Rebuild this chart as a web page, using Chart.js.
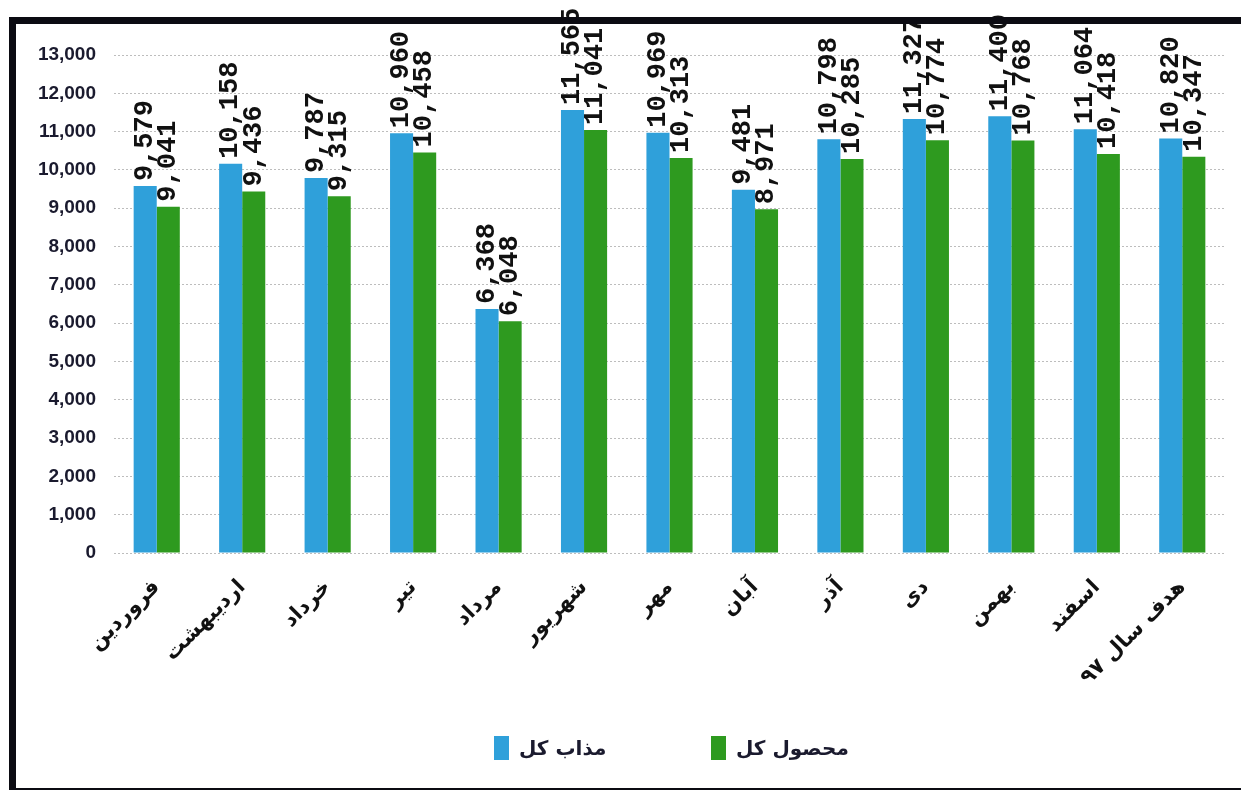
<!DOCTYPE html>
<html lang="fa">
<head>
<meta charset="utf-8">
<script src="https://cdn.jsdelivr.net/npm/chart.js@4/dist/chart.umd.min.js"></script>
<style>
    html, body { margin: 0; padding: 0; background: #ffffff; }
    #wrap { position: relative; width: 1241px; height: 790px; overflow: hidden; }
    #frame {
        position: absolute; left: 9px; top: 17px; width: 1240px; height: 764px;
        border-top: 7px solid #0b0b12; border-left: 7px solid #0b0b12; border-bottom: 7px solid #0b0b12;
        pointer-events: none;
    }
    .leg { position: absolute; top: 736px; display: flex; align-items: center;
        font: bold 20px 'DejaVu Sans', sans-serif; color: #1a1a2e; }
    .leg i { display: inline-block; width: 15px; height: 24px; margin-right: 10px; }
</style>
</head>
<body>
<div id="wrap">
    <canvas id="mainChart" width="1241" height="790"></canvas>
    <div id="frame"></div>
    <div class="leg" style="left:494px"><i style="background:#2fa0da"></i><span dir="rtl">مذاب کل</span></div>
    <div class="leg" style="left:711px"><i style="background:#2e9a1f"></i><span dir="rtl">محصول کل</span></div>
</div>
<script>
// meses (persa) + meta do ano 97
const months = [
    'فروردین', 'اردیبهشت', 'خرداد', 'تیر', 'مرداد', 'شهریور',
    'مهر', 'آبان', 'آذر', 'دی', 'بهمن', 'اسفند', 'هدف سال ۹۷'
];
const seriesNames = ['مذاب کل', 'محصول کل'];
const mozab = [9579, 10158, 9787, 10960, 6368, 11565, 10969, 9481, 10798, 11327, 11400, 11064, 10820];
const mahsool = [9041, 9436, 9315, 10458, 6048, 11041, 10313, 8971, 10285, 10774, 10768, 10418, 10347];
const yTicks = [0, 1000, 2000, 3000, 4000, 5000, 6000, 7000, 8000, 9000, 10000, 11000, 12000, 13000];

const BLUE = '#2fa0da';
const GREEN = '#2e9a1f';

// rótulos verticais em cima de cada barra
const barValueLabels = {
    id: 'barValueLabels',
    afterDatasetsDraw(chart) {
        const ctx = chart.ctx;
        ctx.save();
        ctx.font = 'bold 27px "Liberation Mono", monospace';
        ctx.fillStyle = '#111';
        ctx.textAlign = 'left';
        ctx.textBaseline = 'middle';
        chart.data.datasets.forEach((ds, i) => {
            chart.getDatasetMeta(i).data.forEach((bar, j) => {
                ctx.save();
                ctx.translate(bar.x, bar.y - 5);
                ctx.rotate(-Math.PI / 2);
                ctx.fillText(ds.data[j].toLocaleString('en-US'), 0, 0);
                ctx.restore();
            });
        });
        ctx.restore();
    }
};

new Chart(document.getElementById('mainChart').getContext('2d'), {
    type: 'bar',
    data: {
        labels: months,
        datasets: [
            { label: seriesNames[0], data: mozab, backgroundColor: BLUE },
            { label: seriesNames[1], data: mahsool, backgroundColor: GREEN }
        ]
    },
    options: {
        responsive: false,
        animation: false,
        devicePixelRatio: 1,
        datasets: {
            bar: { categoryPercentage: 0.54, barPercentage: 1.0 }
        },
        layout: { padding: { top: 55, right: 16, left: 0, bottom: 0 } },
        plugins: {
            legend: { display: false },
            tooltip: { enabled: false }
        },
        scales: {
            y: {
                min: 0,
                max: 13000,
                afterFit: (scale) => { scale.width = 114; },
                afterBuildTicks: (scale) => { scale.ticks = yTicks.map(v => ({ value: v })); },
                border: { display: false, dash: [2, 2] },
                grid: {
                    color: '#bdbdbd',
                    lineWidth: 1,
                    drawTicks: false
                },
                ticks: {
                    padding: 18,
                    color: '#1a1a2e',
                    font: { family: '"Liberation Sans", Arial, sans-serif', size: 19, weight: 'bold' },
                    callback: (v) => v.toLocaleString('en-US')
                }
            },
            x: {
                afterFit: (scale) => { scale.height = 237; },
                border: { display: false },
                grid: { display: false },
                ticks: {
                    autoSkip: false,
                    minRotation: 45,
                    maxRotation: 45,
                    padding: 14,
                    color: '#111',
                    font: { family: '"DejaVu Sans", sans-serif', size: 21, weight: 'bold' }
                }
            }
        }
    },
    plugins: [barValueLabels]
});
</script>
</body>
</html>
